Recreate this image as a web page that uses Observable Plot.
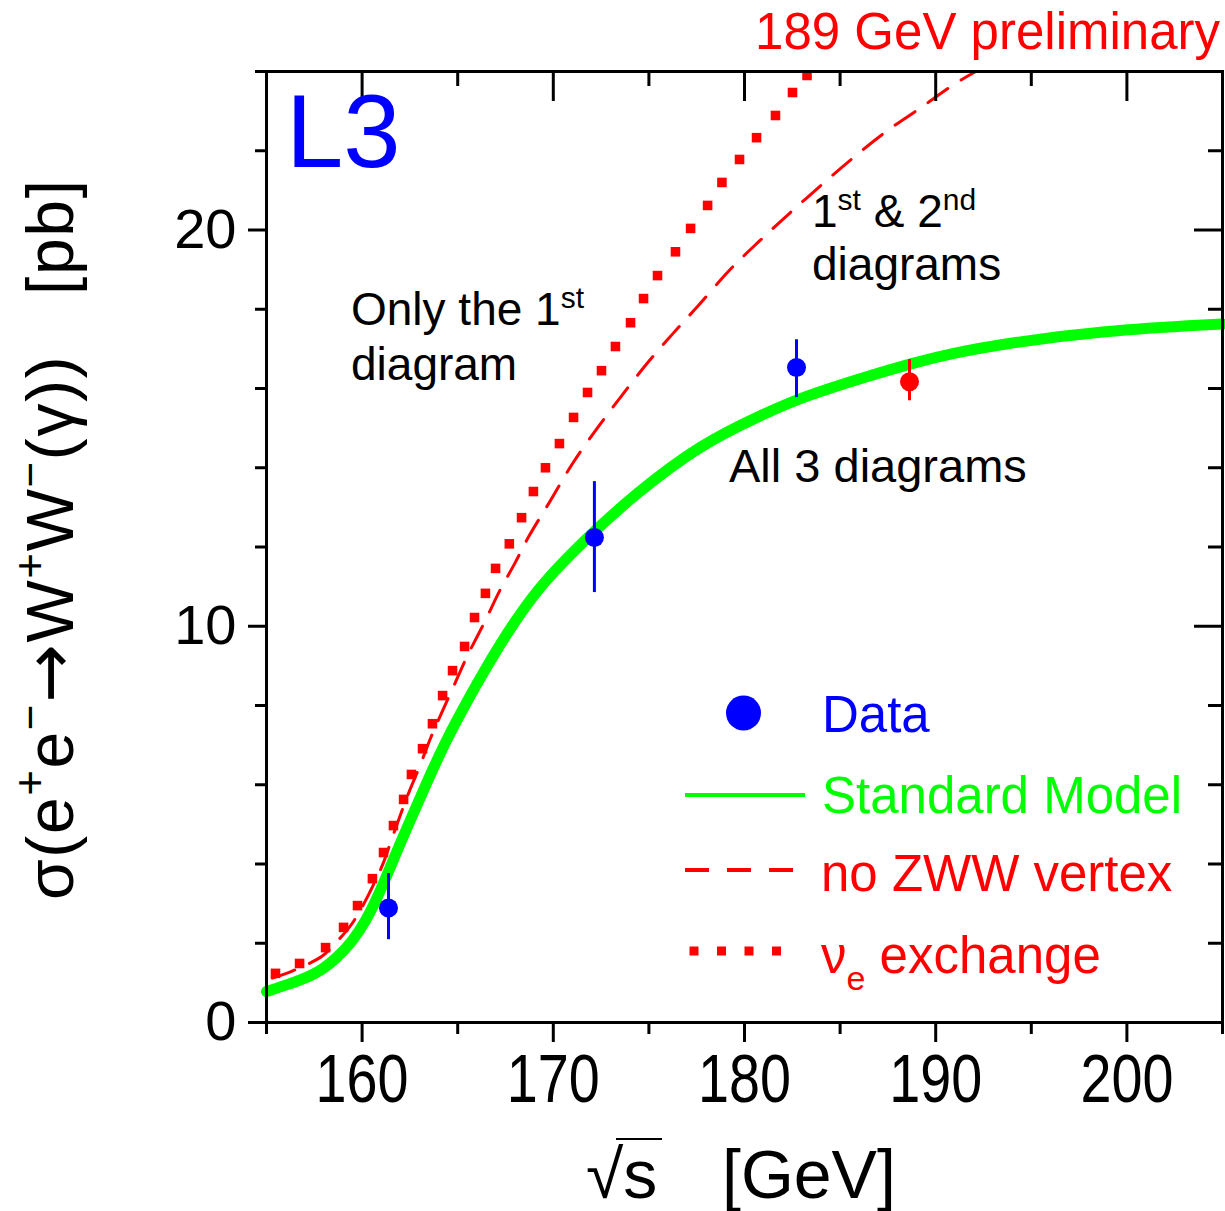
<!DOCTYPE html>
<html><head><meta charset="utf-8">
<script src="https://cdn.jsdelivr.net/npm/d3@7"></script>
<script src="https://cdn.jsdelivr.net/npm/@observablehq/plot@0.6"></script>
<style>
body{margin:0;background:#fff;}
#chart svg{display:block;}
</style></head><body><div id="chart"></div>
<script>
// ---- data ----
const smEnergy = [155, 156.25, 157.2, 157.9, 158.66, 159.5, 160.18, 160.8, 161.5, 162.0, 162.53, 163.16, 163.73, 164.36, 164.99, 165.67, 166.35, 167.08, 167.92, 169.1, 170.5, 172.15, 174.2, 177.7, 181.2, 183.0, 186.5, 189.1, 190.8, 193.4, 198.7, 205];
const smXsec   = [0.78, 0.98, 1.15, 1.33, 1.62, 2.05, 2.55, 3.15, 3.95, 4.52, 5.12, 5.8, 6.43, 7.07, 7.66, 8.26, 8.84, 9.43, 10.07, 10.88, 11.62, 12.4, 13.3, 14.6, 15.4, 15.78, 16.32, 16.68, 16.88, 17.12, 17.46, 17.63];

const noZwwEnergy = [155.3, 156.4, 157.9, 158.6, 159.55, 161.0, 161.6, 162.4, 163.0, 163.6, 164.1, 164.8, 165.5, 166.4, 167.2, 168.0, 168.7, 169.85, 171.0, 172.3, 173.5, 174.9, 176.3, 177.6, 179.2, 180.8, 182.4, 184.1, 185.7, 187.45, 189.2, 191.1, 192.1];
const noZwwXsec   = [1.12, 1.31, 1.67, 2.0, 2.55, 3.9, 4.7, 5.75, 6.45, 7.2, 7.75, 8.5, 9.25, 10.1, 10.9, 11.6, 12.25, 13.17, 14.1, 15.0, 15.77, 16.63, 17.41, 18.1, 18.98, 19.73, 20.44, 21.17, 21.83, 22.5, 23.08, 23.72, 24.0];

const nueEnergy = [155.47, 156.73, 158.09, 159.03, 159.76, 160.54, 161.12, 161.64, 162.17, 162.58, 163.16, 163.68, 164.21, 164.73, 165.36, 165.88, 166.45, 166.98, 167.7, 168.34, 168.96, 169.59, 170.32, 171.06, 171.79, 172.52, 173.25, 174.04, 174.72, 175.45, 176.39, 177.18, 178.07, 178.82, 179.74, 180.63, 181.62, 182.51, 183.27];
const nueXsec   = [1.24, 1.49, 1.89, 2.40, 2.95, 3.63, 4.29, 4.97, 5.63, 6.26, 6.91, 7.54, 8.25, 8.88, 9.49, 10.22, 10.83, 11.46, 12.08, 12.74, 13.40, 14.00, 14.61, 15.27, 15.90, 16.45, 17.06, 17.66, 18.27, 18.85, 19.45, 20.04, 20.62, 21.20, 21.78, 22.33, 22.89, 23.47, 23.90];

const dataEnergy = [161.38, 172.15, 182.72];
const dataXsec   = [2.89, 12.24, 16.53];
const dataLow    = [2.09, 10.85, 15.77];
const dataHigh   = [3.76, 13.65, 17.23];

const prelimEnergy = [188.63];
const prelimXsec   = [16.17];
const prelimLow    = [15.69];
const prelimHigh   = [16.73];

const xMajorTicks = [160, 170, 180, 190, 200];
const xMinorTicks = [155, 165, 175, 185, 195, 205];
const yMajorTicks = [0, 10, 20];
const yMinorTicks = [2, 4, 6, 8, 12, 14, 16, 18, 22, 24];

// ---- tables ----
const rows = (xs, ys, extra = {}) => xs.map((x, i) => {
  const r = {x, y: ys[i]};
  for (const k in extra) r[k] = extra[k][i];
  return r;
});
const sm = rows(smEnergy, smXsec);
const noZww = rows(noZwwEnergy, noZwwXsec);
const nue = rows(nueEnergy, nueXsec);
const data = rows(dataEnergy, dataXsec, {lo: dataLow, hi: dataHigh});
const prelim = rows(prelimEnergy, prelimXsec, {lo: prelimLow, hi: prelimHigh});

const W = 1225, H = 1211, mL = 266, mR = 3, mT = 71, mB = 189;
const plotW = W - mL - mR, plotH = H - mT - mB;
const FONT = "'Liberation Sans', Arial, Helvetica, sans-serif";
const RED = "#ff0000", GREEN = "#00ff00", BLUE = "#0000ff";

const chart = Plot.plot({
  width: W, height: H,
  marginLeft: mL, marginRight: mR, marginTop: mT, marginBottom: mB,
  style: {background: "white", fontFamily: FONT, color: "black"},
  x: {domain: [155, 205]},
  y: {domain: [0, 24]},
  marks: [
    Plot.line(noZww, {x: "x", y: "y", stroke: RED, strokeWidth: 3, strokeDasharray: "24,16", curve: "catmull-rom"}),
    Plot.dot(nue, {x: "x", y: "y", symbol: "square", r: 5.4, fill: RED, stroke: "none"}),
    Plot.line(sm, {x: "x", y: "y", stroke: GREEN, strokeWidth: 11, curve: "basis"}),
    Plot.ruleX(data, {x: "x", y1: "lo", y2: "hi", stroke: BLUE, strokeWidth: 3}),
    Plot.dot(data, {x: "x", y: "y", r: 9.5, fill: BLUE, stroke: "none"}),
    Plot.ruleX(prelim, {x: "x", y1: "lo", y2: "hi", stroke: RED, strokeWidth: 3}),
    Plot.dot(prelim, {x: "x", y: "y", r: 9.5, fill: RED, stroke: "none"}),
    // axes
    Plot.axisX(xMajorTicks, {anchor: "bottom", tickSize: 20, tickPadding: 11, strokeWidth: 3, fontSize: 68, fontFamily: FONT, label: null, fill: "black"}),
    Plot.axisX(xMinorTicks, {anchor: "bottom", tickSize: 12, strokeWidth: 3, fill: "none", label: null}),
    Plot.axisY(yMajorTicks, {anchor: "left", tickSize: 18, tickPadding: 12, strokeWidth: 3, fontSize: 56, fontFamily: FONT, label: null, fill: "black"}),
    Plot.axisY(yMinorTicks, {anchor: "left", tickSize: 11, strokeWidth: 3, fill: "none", label: null}),
    // inward ticks on top and right
    Plot.tickX(xMajorTicks, {x: d => d, stroke: "black", strokeWidth: 3, insetBottom: plotH - 30}),
    Plot.tickX(xMinorTicks, {x: d => d, stroke: "black", strokeWidth: 3, insetBottom: plotH - 15}),
    Plot.tickY(yMajorTicks, {y: d => d, stroke: "black", strokeWidth: 3, insetLeft: plotW - 28}),
    Plot.tickY(yMinorTicks, {y: d => d, stroke: "black", strokeWidth: 3, insetLeft: plotW - 14}),
    Plot.frame({stroke: "black", strokeWidth: 3})
  ]
});
document.getElementById("chart").appendChild(chart);

const svg = d3.select(chart);

// condense the x tick labels (the reference uses a narrow face)
svg.selectAll('g[aria-label="x-axis tick label"] text').each(function() {
  const el = d3.select(this);
  const tr = el.attr("transform");
  if (tr) {
    el.attr("transform", tr + " scale(0.82,1)");
  } else {
    const x = +el.attr("x") || 0;
    el.attr("transform", `translate(${x},0) scale(0.82,1) translate(${-x},0)`);
  }
});

// ---- texts, annotations and legend ----
function rich(x, y, parts, {size = 46, fill = "black", anchor = "start", transform = null, textLength = null} = {}) {
  const t = svg.append("text")
    .attr("x", x).attr("y", y)
    .attr("font-family", FONT).attr("font-size", size)
    .attr("fill", fill).attr("text-anchor", anchor)
    .style("white-space", "pre");
  if (transform) t.attr("transform", transform);
  if (textLength) t.attr("textLength", textLength).attr("lengthAdjust", "spacing");
  let shift = 0;
  for (const p of parts) {
    const s = t.append("tspan").text(p.t);
    const target = p.dy || 0;
    if (target !== shift) { s.attr("dy", target - shift); shift = target; }
    if (p.size) s.attr("font-size", p.size);
    if (p.fill) s.attr("fill", p.fill);
    if (p.family) s.attr("font-family", p.family);
  }
  return t;
}

// title
rich(1220, 49, [{t: "189 GeV preliminary"}], {size: 51, fill: RED, anchor: "end"});
// L3
rich(286, 167, [{t: "L3"}], {size: 103, fill: BLUE});
// annotations
rich(351, 325, [{t: "Only the 1"}, {t: "st", size: 30, dy: -17}], {size: 46});
rich(351, 380, [{t: "diagram"}], {size: 46});
rich(812, 227, [{t: "1"}, {t: "st", size: 30, dy: -17}, {t: " & 2"}, {t: "nd", size: 30, dy: -17}], {size: 46});
rich(812, 280, [{t: "diagrams"}], {size: 46});
rich(729, 482, [{t: "All 3 diagrams"}], {size: 47});

// axis titles
rich(0, 0, [
  {t: "σ(e"}, {t: "+", size: 44, dy: -28}, {t: "e"}, {t: "−", size: 44, dy: -28},
  {t: "→", family: "'DejaVu Sans', sans-serif", size: 70}, {t: "W"}, {t: "+", size: 44, dy: -28}, {t: "W"}, {t: "−", size: 44, dy: -28},
  {t: "(γ))   [pb]"}
], {size: 66, transform: "translate(73,900) rotate(-90)", textLength: 720});
rich(586, 1198, [{t: "√s"}], {size: 68});
svg.append("line").attr("x1", 616).attr("x2", 662).attr("y1", 1139).attr("y2", 1139).attr("stroke", "black").attr("stroke-width", 2);
rich(722, 1198, [{t: "[GeV]"}], {size: 68});

// legend
const lg = svg.append("g");
lg.append("circle").attr("cx", 743.5).attr("cy", 713).attr("r", 17.5).attr("fill", BLUE);
rich(822, 732, [{t: "Data"}], {size: 51, fill: BLUE});
lg.append("line").attr("x1", 685).attr("x2", 805).attr("y1", 795).attr("y2", 795).attr("stroke", GREEN).attr("stroke-width", 4);
rich(822, 813, [{t: "Standard Model"}], {size: 51, fill: GREEN});
lg.append("line").attr("x1", 685).attr("x2", 795).attr("y1", 870).attr("y2", 870).attr("stroke", RED).attr("stroke-width", 4).attr("stroke-dasharray", "24,18");
rich(821, 891, [{t: "no ZWW vertex"}], {size: 51, fill: RED});
lg.append("line").attr("x1", 689.5).attr("x2", 781).attr("y1", 951).attr("y2", 951).attr("stroke", RED).attr("stroke-width", 9).attr("stroke-dasharray", "9,18.5");
rich(821, 973, [{t: "ν"}, {t: "e", size: 34, dy: 17}, {t: " exchange", dy: 0}], {size: 51, fill: RED});
</script>
</body></html>
